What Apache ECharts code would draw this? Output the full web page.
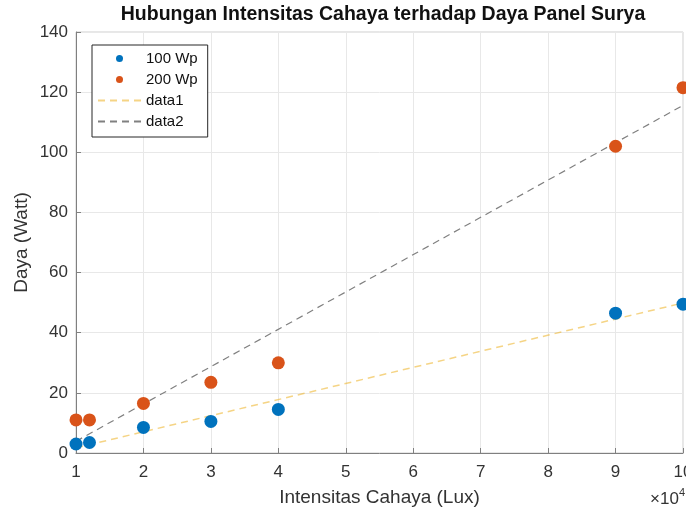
<!DOCTYPE html>
<html>
<head>
<meta charset="utf-8">
<script src="https://cdn.jsdelivr.net/npm/echarts@6/dist/echarts.min.js"></script>
<style>
  html, body { margin: 0; padding: 0; background: #fff; }
  #chart { width: 686px; height: 512px; }
</style>
</head>
<body>
<div id="chart"></div>
<script>
// measured values (x in Lux, y in Watt)
const luxValues = [10000, 12000, 20000, 30000, 40000, 90000, 100000];
const daya100 = [3, 3.5, 8.5, 10.5, 14.5, 46.5, 49.5];
const daya200 = [11, 11, 16.5, 23.5, 30, 102, 121.5];
// fitted line endpoints
const fit1 = [[10000, 1.7], [100000, 49.9]];
const fit2 = [[10000, 3.9], [100000, 115.6]];

const colors = {
    blue: '#0072BD',
    orange: '#D95319',
    data1: 'rgba(237,177,32,0.55)',
    data2: '#808080'
};
const font = 'Liberation Sans, Arial, sans-serif';
const textColor = '#333';

function pairs(xs, ys) {
    return xs.map((x, i) => [x, ys[i]]);
}

const chart = echarts.init(document.getElementById('chart'));

chart.setOption({
    animation: false,
    textStyle: { fontFamily: font },
    title: {
        text: 'Hubungan Intensitas Cahaya terhadap Daya Panel Surya',
        left: 378,
        top: 0,
        textAlign: 'center',
        textStyle: { fontSize: 19.5, fontWeight: 'bold', color: '#111', fontFamily: font }
    },
    grid: {
        left: 76, right: 3, top: 32, bottom: 59,
        outerBoundsMode: 'none',
        show: true, borderColor: '#cfcfcf', borderWidth: 1
    },
    legend: {
        orient: 'vertical',
        left: 92,
        top: 45,
        padding: [6, 10, 8, 5],
        itemGap: 6,
        itemWidth: 43,
        itemHeight: 7,
        backgroundColor: '#fff',
        borderColor: '#262626',
        borderWidth: 1,
        borderRadius: 0,
        textStyle: { fontSize: 15, color: '#111', fontFamily: font },
        data: [
            '100 Wp',
            '200 Wp',
            { name: 'data1', itemStyle: { opacity: 0 } },
            { name: 'data2', itemStyle: { opacity: 0 } }
        ]
    },
    xAxis: {
        type: 'value',
        min: 10000,
        max: 100000,
        interval: 10000,
        name: 'Intensitas Cahaya (Lux)',
        nameLocation: 'middle',
        nameGap: 35,
        nameTextStyle: { fontSize: 19, color: textColor, fontFamily: font },
        axisLine: { onZero: false, lineStyle: { color: '#808080' } },
        axisTick: { inside: true, length: 5, lineStyle: { color: '#808080' } },
        axisLabel: {
            margin: 11, fontSize: 17, color: textColor, fontFamily: font,
            formatter: v => String(v / 10000)
        },
        splitLine: { show: true, lineStyle: { color: '#e8e8e8' } }
    },
    yAxis: {
        type: 'value',
        min: 0,
        max: 140,
        interval: 20,
        name: 'Daya (Watt)',
        nameLocation: 'middle',
        nameGap: 45,
        nameMoveOverlap: false,
        nameTextStyle: { fontSize: 19, color: textColor, fontFamily: font },
        axisLine: { show: true, lineStyle: { color: '#808080' } },
        axisTick: { show: true, inside: true, length: 5, lineStyle: { color: '#808080' } },
        axisLabel: { margin: 8, fontSize: 17, color: textColor, fontFamily: font },
        splitLine: { show: true, lineStyle: { color: '#e8e8e8' } }
    },
    graphic: [{
        type: 'text',
        right: 1,
        top: 487,
        style: {
            text: '{a|×10}{b|4}',
            fill: textColor,
            rich: {
                a: { fontSize: 17, fontFamily: font, fill: textColor, verticalAlign: 'bottom' },
                b: { fontSize: 11, fontFamily: font, fill: textColor, padding: [0, 0, 10, 0] }
            }
        }
    }],
    series: [
        {
            name: 'data1',
            type: 'line',
            data: fit1,
            symbol: 'none',
            z: 2,
            itemStyle: { color: colors.data1 },
            lineStyle: { color: colors.data1, width: 1.5, type: [7, 5] }
        },
        {
            name: 'data2',
            type: 'line',
            data: fit2,
            symbol: 'none',
            z: 2,
            itemStyle: { color: colors.data2 },
            lineStyle: { color: colors.data2, width: 1.2, type: [7, 5] }
        },
        {
            name: '100 Wp',
            type: 'scatter',
            data: pairs(luxValues, daya100),
            symbol: 'circle',
            symbolSize: 13,
            z: 3,
            itemStyle: { color: colors.blue, opacity: 1 }
        },
        {
            name: '200 Wp',
            type: 'scatter',
            data: pairs(luxValues, daya200),
            symbol: 'circle',
            symbolSize: 13,
            z: 3,
            itemStyle: { color: colors.orange, opacity: 1 }
        }
    ]
});
</script>
</body>
</html>
